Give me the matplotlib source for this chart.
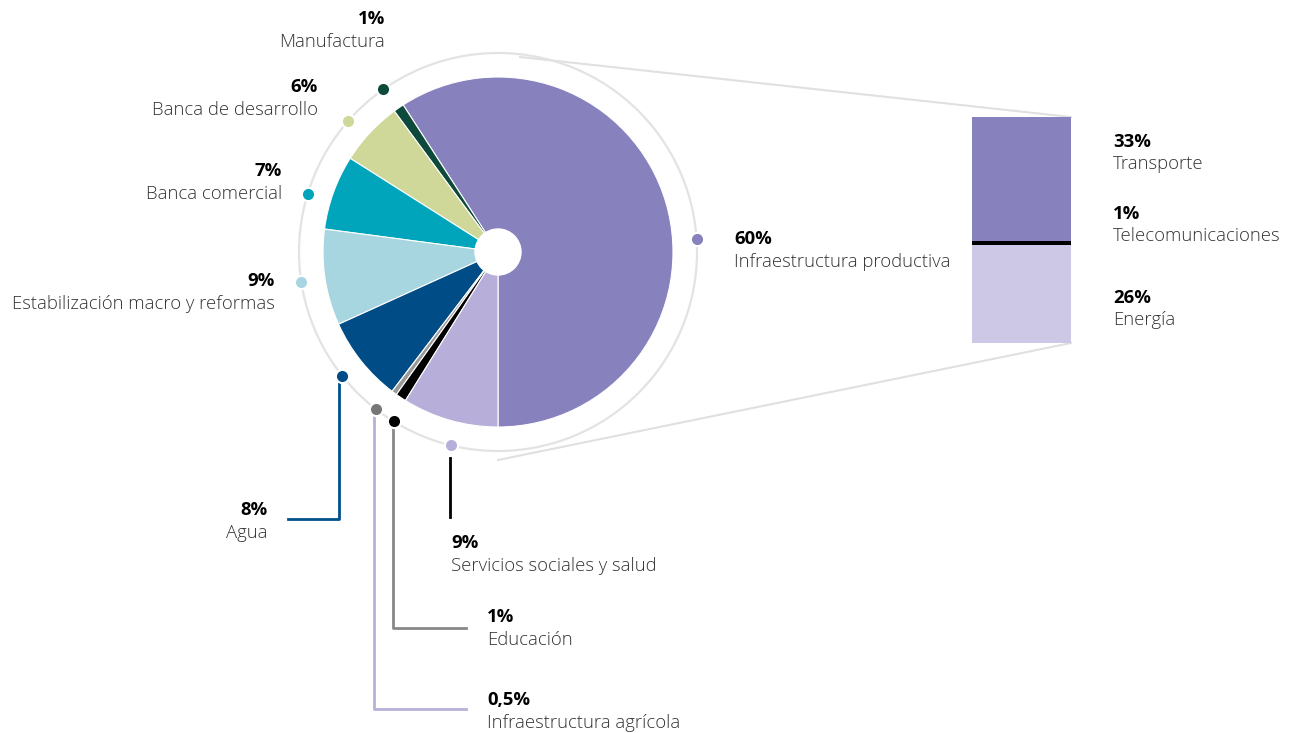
import numpy as np
import matplotlib.pyplot as plt
from matplotlib.patches import Circle

plt.rcParams['font.family'] = ['Open Sans', 'DejaVu Sans']

# pie data (counterclockwise from 6 o'clock)
sectors = ["Infraestructura productiva", "Manufactura", "Banca de desarrollo",
           "Banca comercial", "Estabilización macro y reformas", "Agua",
           "Infraestructura agrícola", "Educación", "Servicios sociales y salud"]
shares = [60, 1, 6, 7, 9, 8, 0.5, 1, 9]
share_labels = ["60%", "1%", "6%", "7%", "9%", "8%", "0,5%", "1%", "9%"]
colors = ["#8781bd", "#0d4a3b", "#cfd899", "#00a5bb", "#a7d5e0",
          "#004c86", "#9a9a9a", "#000000", "#b7afd9"]
dot_colors = ["#8781bd", "#0d4a3b", "#cfd899", "#00a5bb", "#a7d5e0",
              "#004c86", "#777777", "#000000", "#b7afd9"]

# breakdown of infraestructura productiva
sub_names = ["Transporte", "Telecomunicaciones", "Energía"]
sub_shares = [33, 1, 26]
sub_labels = ["33%", "1%", "26%"]
sub_colors = ["#8781bd", "#000000", "#cdc8e6"]

H = 733
fig = plt.figure(figsize=(12.99, 7.33), dpi=100)
ax = fig.add_axes([0, 0, 1, 1])

cx, cy, R = 498, H - 252, 175
ring_r = 199
ax.pie(shares, colors=colors, startangle=-90, counterclock=True,
       center=(cx, cy), radius=R, frame=True,
       wedgeprops=dict(edgecolor="white", linewidth=0.8))
ax.add_patch(Circle((cx, cy), 23, color="white", zorder=5))
ax.add_patch(Circle((cx, cy), ring_r, fill=False, ec="#e3e3e3", lw=1.6, zorder=1))

# dot angles on the ring (degrees)
dot_ang = [3.7, 125.2, 138.8, 163.0, 188.6, 218.5, 232.3, 238.4, 256.4]
for a, c in zip(dot_ang, dot_colors):
    x = cx + ring_r * np.cos(np.radians(a))
    y = cy + ring_r * np.sin(np.radians(a))
    ax.plot(x, y, "o", ms=9.5, mfc=c, mec="white", mew=1.5, zorder=6)

tc = "#333333"
fs = 13.3


def label(x, y, pct, name, ha):
    ax.text(x, H - y, pct, fontsize=fs, fontweight="bold", color="black",
            ha=ha, va="center")
    ax.text(x, H - y - 23, name, fontsize=fs, fontweight="light", color=tc,
            ha=ha, va="center")


label(734, 239, share_labels[0], sectors[0], "left")
label(385, 19, share_labels[1], sectors[1], "right")
label(318, 87, share_labels[2], sectors[2], "right")
label(282, 171, share_labels[3], sectors[3], "right")
label(275, 281, share_labels[4], sectors[4], "right")
label(268, 510, share_labels[5], sectors[5], "right")
label(487, 700, share_labels[6], sectors[6], "left")
label(487, 617, share_labels[7], sectors[7], "left")
label(451, 543, share_labels[8], sectors[8], "left")

# leader lines
ax.plot([339, 339, 288], [H - 383, H - 519, H - 519], color="#00508a", lw=2)
ax.plot([374, 374, 466], [H - 417, H - 709, H - 709], color="#b8b0d8", lw=2)
ax.plot([393, 393, 466], [H - 428, H - 628, H - 628], color="#888888", lw=2)
ax.plot([450, 450], [H - 458, H - 517], color="black", lw=2)

# stacked bar for the breakdown
bx, bw = 1021.5, 99
top, bottom = H - 117, H - 343
scale = (top - bottom) / sum(sub_shares)
y0 = top
for v, c in zip(sub_shares, sub_colors):
    ax.bar(bx, v * scale, bottom=y0 - v * scale, width=bw, color=c, zorder=3)
    y0 -= v * scale

ax.plot([520, 1071], [H - 57, H - 117], color="#e0e0e0", lw=1.5, zorder=0)
ax.plot([498, 1071], [H - 460, H - 343], color="#e0e0e0", lw=1.5, zorder=0)

for (yl, pct, name) in zip([142, 214, 298], sub_labels, sub_names):
    ax.text(1113, H - yl, pct, fontsize=fs, fontweight="bold", color="black",
            ha="left", va="center")
    ax.text(1113, H - yl - 22, name, fontsize=fs, fontweight="light", color=tc,
            ha="left", va="center")

ax.set_xlim(0, 1299)
ax.set_ylim(0, H)
ax.set_aspect("equal")
ax.axis("off")
fig.savefig("out.png", dpi=100)
